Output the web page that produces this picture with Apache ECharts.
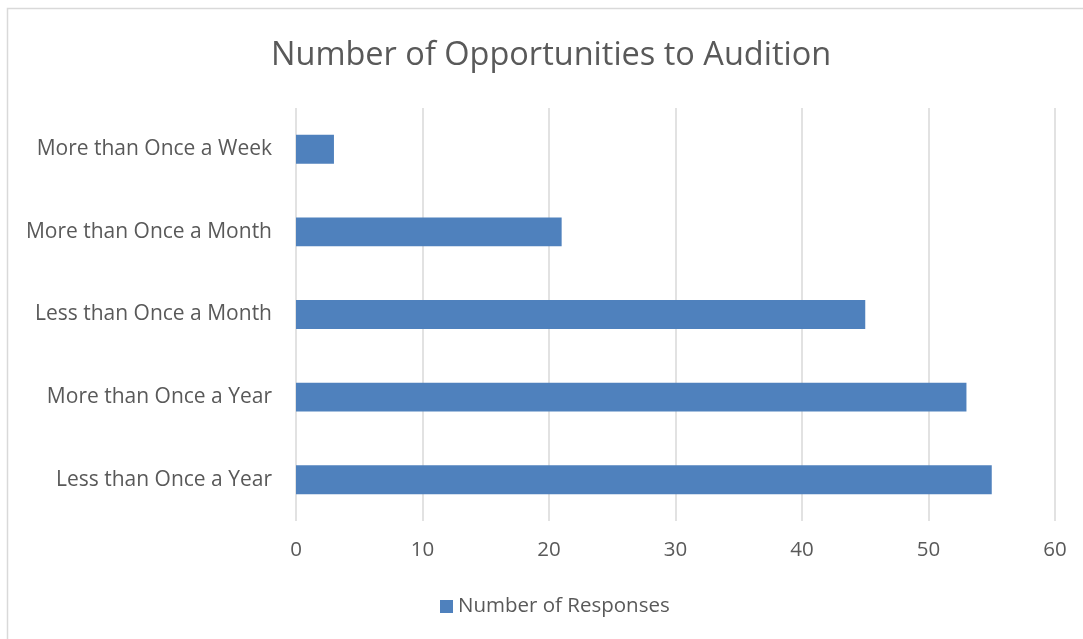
<!DOCTYPE html>
<html><head><meta charset="utf-8">
<script src="https://cdn.jsdelivr.net/npm/echarts@6/dist/echarts.min.js"></script>
<style>html,body{margin:0;padding:0;background:#fff}#c{width:1083px;height:639px}</style>
</head><body><div id="c"></div>
<script>
const categories = ["Less than Once a Year","More than Once a Year","Less than Once a Month","More than Once a Month","More than Once a Week"];
const responses = [55, 53, 45, 21, 3];
const seriesName = "Number of Responses";
const titleText = "Number of Opportunities to Audition";
const font = "Open Sans";
const chart = echarts.init(document.getElementById('c'), null, {renderer:'canvas'});
chart.setOption({
  animation:false,
  backgroundColor:'#fff',
  graphic:[{type:'rect',shape:{x:7.5,y:8.5,width:1200,height:800},style:{fill:'none',stroke:'#d9d9d9',lineWidth:1.5},silent:true}],
  title:{text:titleText,left:266,top:34,textStyle:{fontFamily:font,fontSize:32.5,fontWeight:'normal',color:'#595959'}},
  legend:{top:591,left:435,itemWidth:13,itemHeight:13,itemGap:5,icon:'rect',
    textStyle:{fontFamily:font,fontSize:20.5,color:'#595959'},data:[seriesName]},
  grid:{left:296,right:28,top:108,bottom:118,containLabel:false},
  xAxis:{type:'value',min:0,max:60,interval:10,
    axisLine:{show:false},axisTick:{show:false},
    axisLabel:{fontFamily:font,fontSize:20.5,color:'#595959',margin:19},
    splitLine:{show:true,lineStyle:{color:'#d9d9d9',width:1.5}}},
  yAxis:{type:'category',data:categories,
    axisLine:{show:false},axisTick:{show:false},
    axisLabel:{fontFamily:font,fontSize:21,color:'#595959',margin:24}},
  series:[{name:seriesName,type:'bar',data:responses,barCategoryGap:'65%',
    itemStyle:{color:'#4f81bd'}}]
});
</script></body></html>
